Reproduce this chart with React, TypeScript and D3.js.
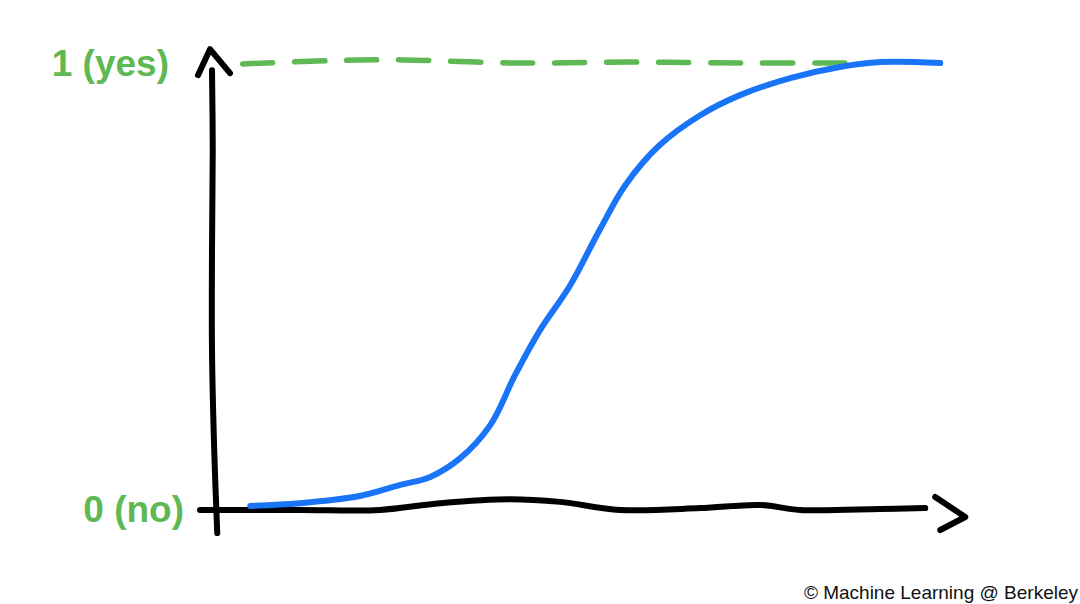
import React from "react";
import * as d3 from "d3";

// Hand-drawn logistic curve (x in arbitrary units 0..10, y probability 0..1)
const curveX = [0.47, 1.13, 1.93, 2.47, 2.87, 3.27, 3.67, 4.0, 4.33, 4.73, 5.13, 5.47, 5.93, 6.47, 7.0, 7.67, 8.33, 8.87, 9.67];
const curveY = [0.007, 0.013, 0.029, 0.054, 0.072, 0.114, 0.188, 0.3, 0.4, 0.5, 0.626, 0.726, 0.816, 0.883, 0.928, 0.966, 0.991, 1.002, 1.0];

// Wobbly hand-drawn x axis
const xAxisX = [-0.2, 1.13, 2.2, 3.0, 3.93, 4.6, 5.4, 6.47, 7.27, 7.8, 8.87, 9.47];
const xAxisY = [-0.002, -0.002, -0.002, 0.013, 0.022, 0.016, -0.002, 0.002, 0.009, -0.002, 0.0, 0.002];

// Wobbly hand-drawn y axis
const yAxisX = [0.03, -0.01, -0.04, -0.04, -0.03, -0.04];
const yAxisY = [-0.054, 0.13, 0.355, 0.58, 0.805, 0.984];

// Dashed "yes" reference line
const refX = [0.37, 1.5, 2.5, 4.0, 5.5, 7.0, 8.4];
const refY = [0.998, 1.005, 1.007, 1.0, 1.002, 1.0, 1.0];

const yTickLabels = ["0 (no)", "1 (yes)"];
const yTickValues = [0, 1];
const credit = "© Machine Learning @ Berkeley";

export default function App() {
  const W = 1080, H = 604;
  const x = d3.scaleLinear().domain([0, 10]).range([215, 965]);
  const y = d3.scaleLinear().domain([0, 1]).range([509, 63]);

  const line = d3.line<[number, number]>()
    .x(d => x(d[0]))
    .y(d => y(d[1]))
    .curve(d3.curveCatmullRom.alpha(0.5));

  const curvePts = curveX.map((v, i) => [v, curveY[i]] as [number, number]);
  const xAxisPts = xAxisX.map((v, i) => [v, xAxisY[i]] as [number, number]);
  const yAxisPts = yAxisX.map((v, i) => [v, yAxisY[i]] as [number, number]);
  const refPts = refX.map((v, i) => [v, refY[i]] as [number, number]);

  const green = "#5eb853";
  const blue = "#1a74f7";
  const black = "#000";

  // arrowheads
  const xEnd = x(xAxisX[xAxisX.length - 1]);
  const xArrow = d3.line()([[xEnd + 10, y(0) - 12], [xEnd + 40, y(0) + 8], [xEnd + 15, y(0) + 21]]);
  const yTop = y(yAxisY[yAxisY.length - 1]);
  const yTopX = x(yAxisX[yAxisX.length - 1]);
  const yArrow = d3.line()([[yTopX - 14, yTop + 5], [yTopX - 2, yTop - 21], [yTopX + 18, yTop + 3]]);

  return (
    <svg width={W} height={H} style={{ position: "absolute", left: 0, top: 0, background: "#fff" }}>
      <rect width={W} height={H} fill="#fff" />
      <path d={line(refPts) || ""} fill="none" stroke={green} strokeWidth={5.5} strokeDasharray="30 22" strokeLinecap="round" />
      <path d={line(yAxisPts) || ""} fill="none" stroke={black} strokeWidth={6} strokeLinecap="round" strokeLinejoin="round" />
      <path d={yArrow || ""} fill="none" stroke={black} strokeWidth={6} strokeLinecap="round" strokeLinejoin="round" />
      <path d={line(xAxisPts) || ""} fill="none" stroke={black} strokeWidth={6} strokeLinecap="round" strokeLinejoin="round" />
      <path d={xArrow || ""} fill="none" stroke={black} strokeWidth={6} strokeLinecap="round" strokeLinejoin="round" />
      <path d={line(curvePts) || ""} fill="none" stroke={blue} strokeWidth={6} strokeLinecap="round" strokeLinejoin="round" />
      {yTickValues.map((v, i) => (
        <text key={i} x={i === 0 ? 184 : 169} y={y(v) + 13} textAnchor="end"
          fontFamily="'Liberation Sans', Arial, sans-serif" fontWeight={700} fontSize={37} fill={green}>
          {yTickLabels[i]}
        </text>
      ))}
      <text x={1078} y={599} textAnchor="end" fontFamily="'Liberation Sans', Arial, sans-serif" fontSize={19} fill="#111">
        {credit}
      </text>
    </svg>
  );
}
